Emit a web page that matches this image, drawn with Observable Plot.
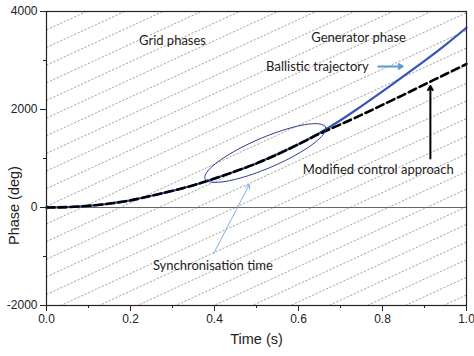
<!DOCTYPE html>
<html><head><meta charset="utf-8">
<script src="https://cdn.jsdelivr.net/npm/d3@7"></script>
<script src="https://cdn.jsdelivr.net/npm/@observablehq/plot@0.6"></script>
<style>html,body{margin:0;padding:0;background:#fff;}</style>
</head><body><div id="chart"></div>
<script>
// ---- data ----
const time      = [0, 0.05, 0.1, 0.15, 0.2, 0.25, 0.3, 0.35, 0.4, 0.45, 0.5, 0.55, 0.6, 0.65, 0.7, 0.75, 0.8, 0.85, 0.9, 0.95, 1.0];
const ballistic = [0, 8, 35, 80, 145, 240, 340, 455, 590, 740, 900, 1085, 1290, 1520, 1780, 2070, 2370, 2680, 2990, 3320, 3670];
const modified  = [0, 8, 35, 80, 145, 240, 340, 455, 590, 740, 900, 1085, 1290, 1505, 1695, 1890, 2095, 2300, 2510, 2720, 2930];

const xTicks = [0, 0.2, 0.4, 0.6, 0.8, 1.0];
const xMinorTicks = [0.1, 0.3, 0.5, 0.7, 0.9];
const yTicks = [-2000, 0, 2000, 4000];
const yMinorTicks = [-1000, 1000, 3000];

// grid phase lines (deg): phase = offset + spacing*k + slope*t
const gridSpacing = 360;
const gridSlope = 3950;
const gridOffset = 25;
const gridIndex = d3.range(-17, 12);

// annotations (data coordinates)
const labelText  = ["Grid phases", "Generator phase", "Ballistic trajectory", "Modified control approach", "Synchronisation time"];
const labelT     = [0.30, 0.743, 0.645, 0.790, 0.396];
const labelPhase = [3394, 3455, 2878, 769, -1184];

const arrowName   = ["ballistic", "modified", "sync"];
const arrowT1     = [0.790, 0.914, 0.398];
const arrowPhase1 = [2878, 1000, -939];
const arrowT2     = [0.848, 0.914, 0.483];
const arrowPhase2 = [2878, 2480, 469];

const ellipseCenter = [0.521, 1112];
const ellipseMajor  = [0.1434, 527];
const ellipseMinor  = [0.0143, -285];

const axisTitleX = "Time (s)";
const axisTitleY = "Phase (deg)";
const axisTitleYPhase = 40;

// ---- derived tables ----
const curve = time.map((t, i) => ({t, ballistic: ballistic[i], modified: modified[i]}));
const grid = gridIndex.map(k => ({x1: 0, y1: gridOffset + gridSpacing * k, x2: 1, y2: gridOffset + gridSpacing * k + gridSlope}));
const labels = labelText.map((s, i) => ({s, t: labelT[i], p: labelPhase[i]}));
const arrows = arrowName.map((n, i) => ({n, x1: arrowT1[i], y1: arrowPhase1[i], x2: arrowT2[i], y2: arrowPhase2[i]}));
const ellipse = d3.range(0, 361, 4).map(a => {
  const r = a * Math.PI / 180;
  return {t: ellipseCenter[0] + ellipseMajor[0] * Math.cos(r) + ellipseMinor[0] * Math.sin(r),
          p: ellipseCenter[1] + ellipseMajor[1] * Math.cos(r) + ellipseMinor[1] * Math.sin(r)};
});
const arrowColor = {ballistic: "#5b9bd5", modified: "#000", sync: "#7fb2e5"};
const arrowWidth = {ballistic: 2, modified: 2, sync: 1};

const chart = Plot.plot({
  width: 474, height: 356,
  marginLeft: 46, marginRight: 8, marginTop: 11, marginBottom: 51,
  style: {fontFamily: "'Liberation Sans', Arial, sans-serif", fontSize: "12px", color: "#222", background: "#fff"},
  x: {domain: [0, 1]},
  y: {domain: [-2000, 4000]},
  marks: [
    Plot.link(grid, {x1: "x1", y1: "y1", x2: "x2", y2: "y2", stroke: "#8a8a8a", strokeWidth: 0.8, strokeDasharray: "2.2,1.6", clip: true}),
    Plot.ruleY([0], {stroke: "#666", strokeWidth: 1}),
    Plot.line(curve, {x: "t", y: "ballistic", stroke: "#3556b8", strokeWidth: 2.2, curve: "monotone-x"}),
    Plot.line(curve, {x: "t", y: "modified", stroke: "#000", strokeWidth: 2.6, strokeDasharray: "8,4", curve: "monotone-x"}),
    Plot.line(ellipse, {x: "t", y: "p", stroke: "#2b3a8a", strokeWidth: 1, curve: "linear-closed"}),
    Plot.arrow(arrows, {x1: "x1", y1: "y1", x2: "x2", y2: "y2", stroke: d => arrowColor[d.n], strokeWidth: d => arrowWidth[d.n], headLength: 7, bend: 0}),
    Plot.text(labels, {x: "t", y: "p", text: "s", fontFamily: "Lato, 'Open Sans', sans-serif", fontSize: 13, fill: "#222"}),
    Plot.axisX({ticks: xTicks, tickSize: 6, tickPadding: 3, tickFormat: d3.format(".1f"), label: null, fontSize: 12}),
    Plot.axisX({ticks: xMinorTicks, tickSize: 3, tickFormat: () => "", label: null}),
    Plot.axisY({ticks: yTicks, tickSize: 6, tickPadding: 3, tickFormat: d => String(d), label: null, fontSize: 12}),
    Plot.axisY({ticks: yMinorTicks, tickSize: 3, tickFormat: () => "", label: null}),
    Plot.frame({stroke: "#222", strokeWidth: 1.2}),
    Plot.text([axisTitleX], {frameAnchor: "bottom", dy: 38, fontSize: 14.5, fill: "#222"}),
    Plot.text([axisTitleY], {y: [axisTitleYPhase], frameAnchor: "left", textAnchor: "middle", dx: -32, rotate: -90, fontSize: 14.5, fill: "#222"})
  ]
});
document.getElementById("chart").appendChild(chart);
</script>
</body></html>
